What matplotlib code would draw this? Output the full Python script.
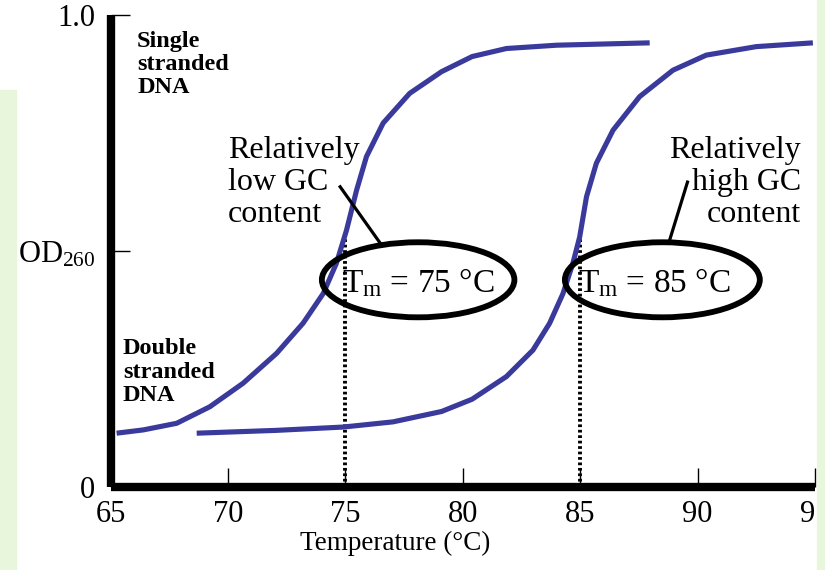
import matplotlib
matplotlib.use("Agg")
import matplotlib.pyplot as plt
from matplotlib.patches import Ellipse, Rectangle

plt.rcParams['font.family'] = ['Liberation Serif', 'DejaVu Serif']
plt.rcParams['mathtext.fontset'] = 'custom'
plt.rcParams['mathtext.rm'] = 'Liberation Serif'
plt.rcParams['mathtext.it'] = 'Liberation Serif:italic'

# melting curves (temperature in C, relative OD260)
low_gc_temp = [65.26, 66.40, 67.82, 69.23, 70.65, 72.07, 73.20, 74.06, 74.62, 75.05,
               75.48, 75.90, 76.61, 77.74, 79.10, 80.40, 81.86, 83.99, 87.96]
low_gc_od = [0.114, 0.121, 0.135, 0.170, 0.220, 0.283, 0.347, 0.410, 0.474, 0.544,
             0.629, 0.700, 0.771, 0.834, 0.880, 0.912, 0.929, 0.936, 0.941]

high_gc_temp = [68.67, 72.07, 74.91, 77.03, 79.10, 80.40, 81.86, 82.99, 83.70, 84.27,
                84.69, 84.98, 85.27, 85.69, 86.40, 87.53, 88.95, 90.37, 92.50, 94.91]
high_gc_od = [0.114, 0.120, 0.127, 0.138, 0.160, 0.186, 0.234, 0.290, 0.347, 0.410,
              0.474, 0.530, 0.615, 0.686, 0.756, 0.827, 0.883, 0.915, 0.933, 0.941]

tm_values = [75, 85]
tm_od = [0.53, 0.53]

x_ticks = [65, 70, 75, 80, 85, 90, 95]
y_ticks = [0, 0.5, 1.0]
y_labels = ['0', 'OD$_{260}$', '1.0']

curve_col = '#3a3a9c'

fig = plt.figure(figsize=(8.25, 5.7), dpi=100)
fig.patch.set_facecolor('white')

ax = fig.add_axes([110.5 / 825, 83 / 570, 704.5 / 825, 472 / 570])
ax.set_facecolor('none')

ax.plot(low_gc_temp, low_gc_od, color=curve_col, lw=3.7, solid_capstyle='butt',
        solid_joinstyle='round', zorder=3)
ax.plot(high_gc_temp, high_gc_od, color=curve_col, lw=3.7, solid_capstyle='butt',
        solid_joinstyle='round', zorder=3)

for t, h in zip(tm_values, tm_od):
    ax.plot([t, t], [0, h], color='black', lw=2.8, linestyle=(0, (0.7, 0.7)), zorder=2)

# Tm ellipses
ax.add_patch(Ellipse((78.1, 0.439), 8.2, 0.159, fill=False, ec='black', lw=4.2, zorder=4))
ax.add_patch(Ellipse((88.5, 0.439), 8.3, 0.159, fill=False, ec='black', lw=4.2, zorder=4))
ax.text(78.1, 0.432, 'T$_\\mathrm{m}$ = 75 °C', fontsize=24, ha='center', va='center', zorder=5)
ax.text(88.15, 0.432, 'T$_\\mathrm{m}$ = 85 °C', fontsize=24, ha='center', va='center', zorder=5)

# callouts
ax.plot([74.78, 76.48], [0.636, 0.517], color='black', lw=2.3, zorder=4)
ax.plot([89.57, 88.81], [0.646, 0.523], color='black', lw=2.3, zorder=4)
ax.text(70.0, 0.645, 'Relatively\nlow GC\ncontent', fontsize=23, ha='left', va='center',
        linespacing=1.12)
ax.text(94.4, 0.645, 'Relatively\nhigh GC\ncontent', fontsize=23, ha='right', va='center',
        multialignment='right', linespacing=1.12)

ax.text(66.13, 0.895, 'Single\nstranded\nDNA', fontsize=17.5, fontweight='bold',
        ha='left', va='center', linespacing=1.15)
ax.text(65.53, 0.243, 'Double\nstranded\nDNA', fontsize=17.5, fontweight='bold',
        ha='left', va='center', linespacing=1.15)

ax.set_xlim(65, 95)
ax.set_ylim(0, 1.0)
ax.set_xticks(x_ticks)
ax.set_xticklabels([str(v) for v in x_ticks])
ax.set_yticks(y_ticks)
ax.set_yticklabels(y_labels)
ax.tick_params(axis='both', direction='in', length=14, width=1, labelsize=22, color='black')
ax.tick_params(axis='x', pad=9)
ax.tick_params(axis='y', pad=11)

for side in ['top', 'right']:
    ax.spines[side].set_visible(False)
for side in ['left', 'bottom']:
    ax.spines[side].set_linewidth(6)
    ax.spines[side].set_capstyle('butt')

ax.set_xlabel('Temperature (°C)', fontsize=19.5)
ax.xaxis.set_label_coords(0.404, -0.093)
ax.xaxis.label.set_va('top')

# pale green edges of the slide, drawn over the clipped 95 like the original
fig.add_artist(Rectangle((0, 0), 16 / 825, 480 / 570, transform=fig.transFigure,
                         color='#e8f6dc', zorder=10))
fig.add_artist(Rectangle((817 / 825, 0), 8 / 825, 1, transform=fig.transFigure,
                         color='#e8f6dc', zorder=10))

fig.savefig('out.png', dpi=100, facecolor=fig.get_facecolor())
